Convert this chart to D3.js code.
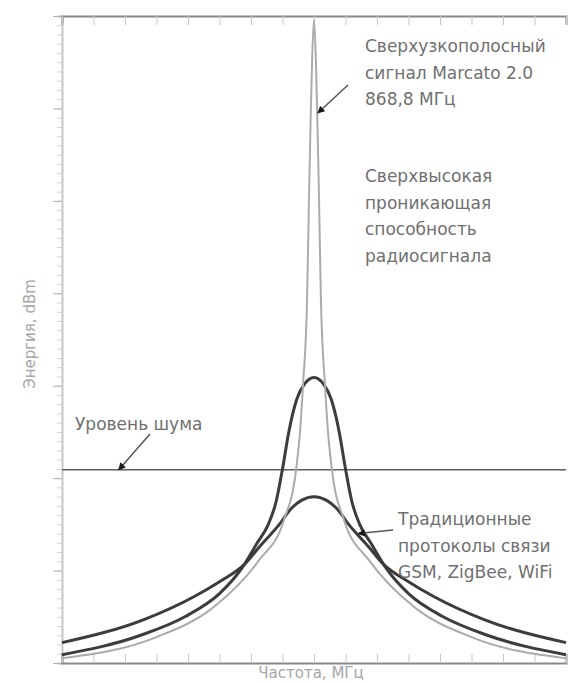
<!DOCTYPE html>
<html>
<head>
<meta charset="utf-8">
<script src="https://cdn.jsdelivr.net/npm/d3@7"></script>
<style>
  body { margin: 0; background: #fff; }
  svg { display: block; font-family: "DejaVu Sans", sans-serif; }
  .note { fill: #707070; font-size: 17px; }
  .axis-label { fill: #a6a6a6; font-size: 15px; }
</style>
</head>
<body>
<div id="chart"></div>
<script>
// frequency offsets (arb. units) and signal energy levels
var spikeX = [-8, -5, -3.2, -1.75, -0.95, -0.57, -0.44, -0.35, -0.22, -0.16, -0.1, -0.06, 0,
              0.06, 0.1, 0.16, 0.22, 0.35, 0.44, 0.57, 0.95, 1.75, 3.2, 5, 8];
var spikeY = [0.05, 0.28, 0.6, 1.11, 1.55, 2.09, 2.52, 3.0, 3.93, 5.01, 5.98, 6.52, 6.96,
              6.52, 5.98, 5.01, 3.93, 3.0, 2.52, 2.09, 1.55, 1.11, 0.6, 0.28, 0.05];

var midX = [-8, -5.5, -4.1, -3, -2.3, -1.8, -1.45, -1.2, -1, -0.8, -0.55, -0.3, 0,
            0.3, 0.55, 0.8, 1, 1.2, 1.45, 1.8, 2.3, 3, 4.1, 5.5, 8];
var midY = [0.09, 0.3, 0.5, 0.75, 1.02, 1.3, 1.5, 1.75, 2.1, 2.5, 2.85, 3.02, 3.09,
            3.02, 2.85, 2.5, 2.1, 1.75, 1.5, 1.3, 1.02, 0.75, 0.5, 0.3, 0.09];

var wideX = [-8, -5.4, -3.8, -3, -2.2, -1.75, -1.1, -0.7, -0.4, 0,
             0.4, 0.7, 1.1, 1.75, 2.2, 3, 3.8, 5.4, 8];
var wideY = [0.22, 0.47, 0.72, 0.88, 1.07, 1.25, 1.5, 1.68, 1.76, 1.8,
             1.76, 1.68, 1.5, 1.25, 1.07, 0.88, 0.72, 0.47, 0.22];

var noiseLevel = 2.09;

var width = 568, height = 683;
var mLeft = 62, mRight = 566, mTop = 16, mBottom = 663;

var svg = d3.select("#chart").append("svg")
    .attr("width", width)
    .attr("height", height);

var x = d3.scaleLinear().domain([-8, 8]).range([mLeft, mRight]);
var y = d3.scaleLinear().domain([0, 7]).range([mBottom, mTop]);

// arrow head
svg.append("defs").append("marker")
    .attr("id", "arr")
    .attr("viewBox", "0 0 10 10")
    .attr("refX", 9).attr("refY", 5)
    .attr("markerWidth", 5).attr("markerHeight", 5)
    .attr("orient", "auto")
    .append("path")
    .attr("d", "M0,0L10,5L0,10z")
    .attr("fill", "#1a1a1a");

// axes: left ticks outward, top/bottom ticks inward
var yMinor = svg.append("g")
    .attr("transform", "translate(" + mLeft + ",0)")
    .call(d3.axisLeft(y).tickValues(d3.range(0, 7.01, 0.1)).tickSize(5).tickFormat(""));
yMinor.selectAll("line").attr("stroke", "#d2d2d2");
yMinor.select(".domain").attr("stroke", "#c8c8c8").attr("stroke-width", 2);

var yMajor = svg.append("g")
    .attr("transform", "translate(" + mLeft + ",0)")
    .call(d3.axisLeft(y).ticks(7).tickSize(9).tickFormat(""));
yMajor.selectAll("line").attr("stroke", "#b0b0b0");
yMajor.select(".domain").remove();

var xBottom = svg.append("g")
    .attr("transform", "translate(0," + mBottom + ")")
    .call(d3.axisBottom(x).ticks(16).tickSize(-9).tickFormat(""));
xBottom.selectAll("line").attr("stroke", "#c8c8c8");
xBottom.select(".domain").attr("stroke", "#8a8a8a").attr("stroke-width", 2);

var xTop = svg.append("g")
    .attr("transform", "translate(0," + mTop + ")")
    .call(d3.axisTop(x).ticks(16).tickSize(-9).tickFormat(""));
xTop.selectAll("line").attr("stroke", "#c8c8c8");
xTop.select(".domain").attr("stroke", "#8a8a8a").attr("stroke-width", 2);

// noise level
svg.append("line")
    .attr("x1", x(-8)).attr("x2", x(8))
    .attr("y1", y(noiseLevel)).attr("y2", y(noiseLevel))
    .attr("stroke", "#5e5e5e").attr("stroke-width", 1.6);

var line = d3.line()
    .x(function(d) { return x(d[0]); })
    .y(function(d) { return y(d[1]); })
    .curve(d3.curveMonotoneX);

function series(xs, ys) {
    return xs.map(function(v, i) { return [v, ys[i]]; });
}

svg.append("path").datum(series(wideX, wideY))
    .attr("d", line).attr("fill", "none")
    .attr("stroke", "#3c3c3c").attr("stroke-width", 3);
svg.append("path").datum(series(midX, midY))
    .attr("d", line).attr("fill", "none")
    .attr("stroke", "#3c3c3c").attr("stroke-width", 3);
svg.append("path").datum(series(spikeX, spikeY))
    .attr("d", line).attr("fill", "none")
    .attr("stroke", "#ababab").attr("stroke-width", 2);

// annotations
function arrow(x1, y1, x2, y2) {
    svg.append("line")
        .attr("x1", x1).attr("y1", y1).attr("x2", x2).attr("y2", y2)
        .attr("stroke", "#555").attr("stroke-width", 1.5)
        .attr("marker-end", "url(#arr)");
}

function note(lines, tx, ty) {
    var t = svg.append("text").attr("class", "note").attr("x", tx).attr("y", ty);
    lines.forEach(function(s, i) {
        t.append("tspan").attr("x", tx).attr("dy", i ? 26.5 : 0).text(s);
    });
}

note(["Сверхузкополосный", "сигнал Marcato 2.0", "868,8 МГц"], 365, 52);
arrow(348, 85, x(0.12), y(5.95));

note(["Сверхвысокая", "проникающая", "способность", "радиосигнала"], 365, 182);

note(["Уровень шума"], 75, 430);
arrow(150, 434, x(-6.2), y(noiseLevel));

note(["Традиционные", "протоколы связи", "GSM, ZigBee, WiFi"], 398, 525);
arrow(393, 530, x(1.4), y(1.4));

svg.append("text").attr("class", "axis-label")
    .attr("transform", "translate(35,334) rotate(-90)")
    .attr("text-anchor", "middle")
    .text("Энергия, dBm");

svg.append("text").attr("class", "axis-label")
    .attr("x", 311).attr("y", 678)
    .attr("text-anchor", "middle")
    .text("Частота, МГц");
</script>
</body>
</html>
